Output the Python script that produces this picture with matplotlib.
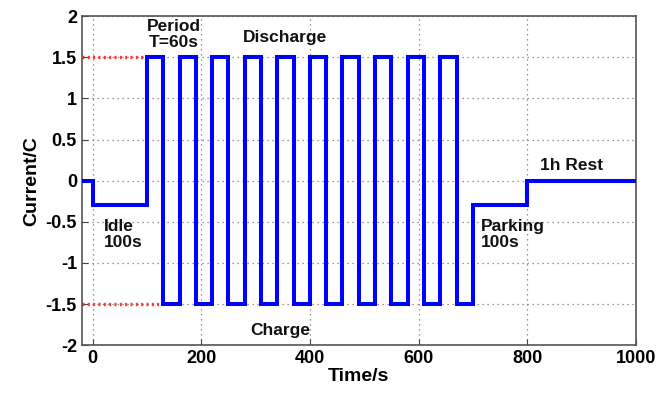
import matplotlib
matplotlib.use("Agg")
import matplotlib.pyplot as plt

plt.rcParams['font.family'] = ['Liberation Sans', 'DejaVu Sans']

# Test current profile: breakpoints (s) and current levels (C)
step_times = [-20, 0, 100, 130, 160, 190, 220, 250, 280, 310, 340, 370, 400,
              430, 460, 490, 520, 550, 580, 610, 640, 670, 700, 800, 1000]
step_levels = [0, -0.3, 1.5, -1.5, 1.5, -1.5, 1.5, -1.5, 1.5, -1.5, 1.5, -1.5,
               1.5, -1.5, 1.5, -1.5, 1.5, -1.5, 1.5, -1.5, 1.5, -1.5, -0.3, 0]

x_ticks = [0, 200, 400, 600, 800, 1000]
y_ticks = [-2, -1.5, -1, -0.5, 0, 0.5, 1, 1.5, 2]
y_tick_labels = ['-2', '-1.5', '-1', '-0.5', '0', '0.5', '1', '1.5', '2']

# Reference levels marked in red
ref_levels = [1.5, -1.5]
ref_ends = [100, 130]

fig = plt.figure(figsize=(6.7, 3.94), dpi=100)
ax = fig.add_axes([0.122, 0.124, 0.827, 0.835])

xs, ys = [], []
for i, lvl in enumerate(step_levels):
    xs += [step_times[i], step_times[i + 1]]
    ys += [lvl, lvl]
ax.plot(xs, ys, color='#0000ff', lw=2.9, solid_joinstyle='miter', zorder=3)

for lvl, end in zip(ref_levels, ref_ends):
    ax.plot([-20, end], [lvl, lvl], color='#ff3030', lw=2.4, ls=(0, (0.6, 1.0)), zorder=2)

ax.set_xlim(-20, 1000)
ax.set_ylim(-2, 2)
ax.set_xticks(x_ticks)
ax.set_yticks(y_ticks)
ax.set_yticklabels(y_tick_labels)
ax.grid(True, ls=(0, (1, 3)), color='#777777', lw=0.9)
ax.tick_params(direction='in', length=4, labelsize=13, color='#444444')
for lab in ax.get_xticklabels() + ax.get_yticklabels():
    lab.set_fontweight('bold')
for sp in ax.spines.values():
    sp.set_color('#555555')
    sp.set_linewidth(1.2)

ax.set_xlabel('Time/s', fontsize=14, fontweight='bold', labelpad=1)
ax.set_ylabel('Current/C', fontsize=14, fontweight='bold', labelpad=4)

tk = dict(fontsize=12.5, fontweight='bold', color='#111111')
ax.text(150, 1.78, 'Period\nT=60s', ha='center', va='center', linespacing=1.05, **tk)
ax.text(355, 1.74, 'Discharge', ha='center', va='center', **tk)
ax.text(346, -1.82, 'Charge', ha='center', va='center', **tk)
ax.text(20, -0.65, 'Idle\n100s', ha='left', va='center', linespacing=1.1, **tk)
ax.text(714, -0.65, 'Parking\n100s', ha='left', va='center', linespacing=1.1, **tk)
ax.text(824, 0.18, '1h Rest', ha='left', va='center', **tk)

fig.savefig('out.png', dpi=100)
